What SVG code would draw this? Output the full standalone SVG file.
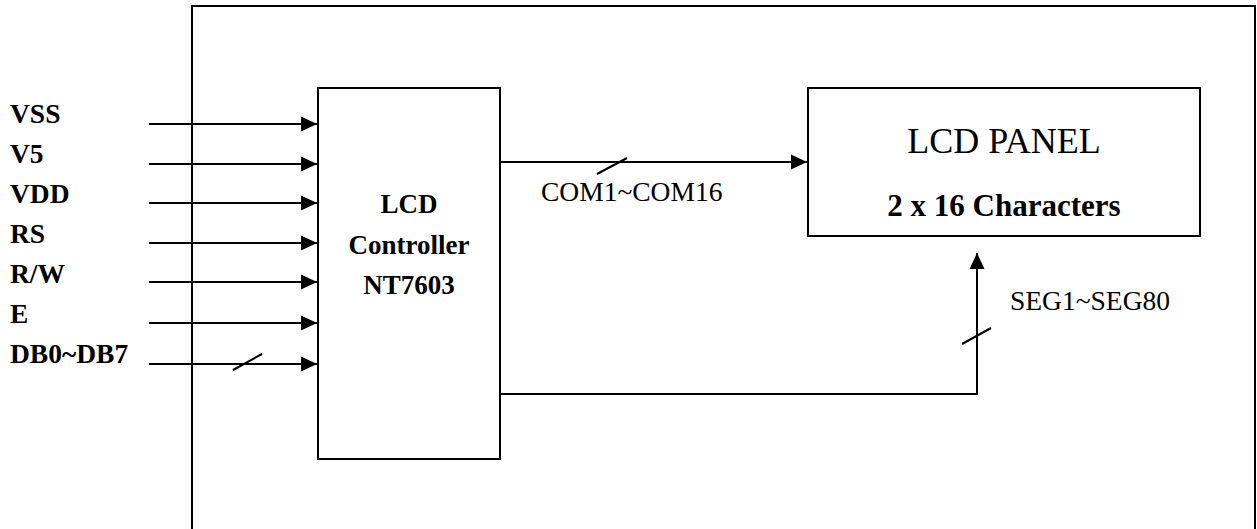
<svg xmlns="http://www.w3.org/2000/svg" width="1257" height="529" viewBox="0 0 1257 529">
<style>
.box{fill:#fff;stroke:#000;stroke-width:2}
.ln{fill:none;stroke:#000;stroke-width:2}
.sl{fill:none;stroke:#000;stroke-width:2}
.lbl{font-family:"Liberation Serif","Times New Roman",serif;font-weight:bold;font-size:27.5px;fill:#000}
.reg{font-family:"Liberation Serif","Times New Roman",serif;font-size:27.5px;fill:#000}
.ctl{font-family:"Liberation Serif","Times New Roman",serif;font-weight:bold;font-size:27px;fill:#000;text-anchor:middle}
</style>
<defs>
<marker id="ah" markerUnits="userSpaceOnUse" markerWidth="16" markerHeight="16" viewBox="0 0 16 16" refX="16" refY="8" orient="auto">
<path d="M0,0.5 L16,8 L0,15.5 Z" fill="#000"/>
</marker>
</defs>
<g id="outer"><path class="ln" d="M192,530 V6 H1255 V530"/></g>
<g id="controller">
<rect class="box" x="318" y="88" width="182" height="371"/>
<text class="ctl" x="409" y="213">LCD</text>
<text class="ctl" x="409" y="254">Controller</text>
<text class="ctl" x="409" y="294">NT7603</text>
</g>
<g id="panel">
<rect class="box" x="808" y="88" width="392" height="148"/>
<text x="1004" y="153" text-anchor="middle" font-family="Liberation Serif, Times New Roman, serif" font-size="36">LCD PANEL</text>
<text x="1004" y="216" text-anchor="middle" font-family="Liberation Serif, Times New Roman, serif" font-size="31" font-weight="bold">2 x 16 Characters</text>
</g>
<g id="labels">
<text class="lbl" x="10" y="123">VSS</text>
<text class="lbl" x="10" y="163">V5</text>
<text class="lbl" x="10" y="203">VDD</text>
<text class="lbl" x="10" y="243">RS</text>
<text class="lbl" x="10" y="283">R/W</text>
<text class="lbl" x="10" y="323">E</text>
<text class="lbl" x="10" y="363">DB0~DB7</text>
<text class="reg" x="541" y="201">COM1~COM16</text>
<text class="reg" x="1010" y="310">SEG1~SEG80</text>
</g>
<g id="connectors">
<line class="ln" x1="149" y1="124" x2="317" y2="124" marker-end="url(#ah)"/>
<line class="ln" x1="149" y1="164" x2="317" y2="164" marker-end="url(#ah)"/>
<line class="ln" x1="149" y1="203" x2="317" y2="203" marker-end="url(#ah)"/>
<line class="ln" x1="149" y1="243" x2="317" y2="243" marker-end="url(#ah)"/>
<line class="ln" x1="149" y1="282" x2="317" y2="282" marker-end="url(#ah)"/>
<line class="ln" x1="149" y1="323" x2="317" y2="323" marker-end="url(#ah)"/>
<line class="ln" x1="149" y1="364" x2="317" y2="364" marker-end="url(#ah)"/>
<line class="sl" x1="233" y1="370" x2="262" y2="354"/>
<line class="ln" x1="500" y1="162" x2="807" y2="162" marker-end="url(#ah)"/>
<line class="sl" x1="597" y1="174" x2="627" y2="158"/>
<polyline class="ln" points="500,394 977,394 977,253" marker-end="url(#ah)"/>
<line class="sl" x1="962" y1="344" x2="991" y2="328"/>
</g>
</svg>
